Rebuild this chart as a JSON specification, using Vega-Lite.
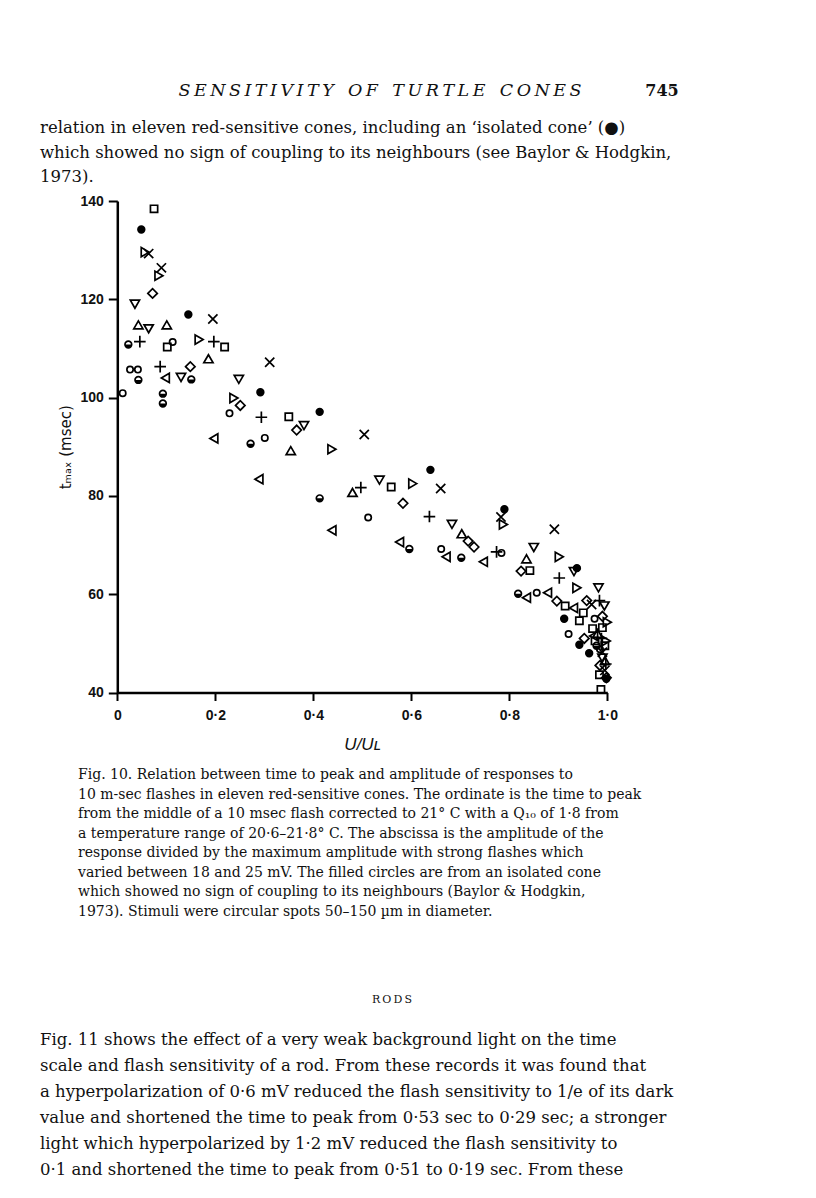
{
  "$schema": "https://vega.github.io/schema/vega-lite/v6.json",
  "width": 816,
  "height": 1198,
  "autosize": {"type": "none"},
  "padding": 0,
  "background": "white",
  "config": {"view": {"stroke": null}},
  "datasets": {
    "pts": [
      {"c":"iso","u":0.049,"v":134.2},{"c":"iso","u":0.145,"v":116.9},{"c":"iso","u":0.292,"v":101.1},{"c":"iso","u":0.413,"v":97.1},{"c":"iso","u":0.639,"v":85.3},{"c":"iso","u":0.790,"v":77.3},{"c":"iso","u":0.938,"v":65.3},{"c":"iso","u":0.912,"v":55.0},{"c":"iso","u":0.943,"v":49.7},{"c":"iso","u":0.963,"v":48.0},{"c":"iso","u":0.998,"v":42.8},
      {"c":"sq","u":0.075,"v":138.4},{"c":"sq","u":0.102,"v":110.3},{"c":"sq","u":0.219,"v":110.3},{"c":"sq","u":0.350,"v":96.1},{"c":"sq","u":0.559,"v":81.8},{"c":"sq","u":0.842,"v":64.8},{"c":"sq","u":0.914,"v":57.6},{"c":"sq","u":0.951,"v":56.2},{"c":"sq","u":0.943,"v":54.6},{"c":"sq","u":0.970,"v":53.0},{"c":"sq","u":0.990,"v":53.2},{"c":"sq","u":0.975,"v":50.5},{"c":"sq","u":0.995,"v":49.5},{"c":"sq","u":0.984,"v":43.6},{"c":"sq","u":0.987,"v":40.6},
      {"c":"x","u":0.064,"v":129.3},{"c":"x","u":0.090,"v":126.4},{"c":"x","u":0.195,"v":116.0},{"c":"x","u":0.311,"v":107.2},{"c":"x","u":0.504,"v":92.5},{"c":"x","u":0.660,"v":81.5},{"c":"x","u":0.783,"v":75.7},{"c":"x","u":0.892,"v":73.2},{"c":"x","u":0.968,"v":57.9},{"c":"x","u":0.990,"v":48.2},{"c":"x","u":0.995,"v":44.5},
      {"c":"td","u":0.036,"v":119.0},{"c":"td","u":0.064,"v":114.0},{"c":"td","u":0.130,"v":104.1},{"c":"td","u":0.248,"v":103.7},{"c":"td","u":0.381,"v":94.3},{"c":"td","u":0.535,"v":83.2},{"c":"td","u":0.683,"v":74.2},{"c":"td","u":0.850,"v":69.5},{"c":"td","u":0.932,"v":64.6},{"c":"td","u":0.982,"v":61.3},{"c":"td","u":0.994,"v":57.6},{"c":"td","u":0.990,"v":47.0},
      {"c":"tu","u":0.043,"v":114.8},{"c":"tu","u":0.101,"v":114.8},{"c":"tu","u":0.186,"v":107.9},{"c":"tu","u":0.354,"v":89.2},{"c":"tu","u":0.480,"v":80.7},{"c":"tu","u":0.703,"v":72.3},{"c":"tu","u":0.835,"v":67.2},{"c":"tu","u":0.980,"v":52.0},{"c":"tu","u":0.995,"v":46.5},
      {"c":"tr","u":0.057,"v":129.6},{"c":"tr","u":0.085,"v":124.8},{"c":"tr","u":0.167,"v":111.8},{"c":"tr","u":0.238,"v":99.9},{"c":"tr","u":0.438,"v":89.5},{"c":"tr","u":0.603,"v":82.5},{"c":"tr","u":0.788,"v":74.2},{"c":"tr","u":0.902,"v":67.6},{"c":"tr","u":0.938,"v":61.3},{"c":"tr","u":1.0,"v":54.3},{"c":"tr","u":0.998,"v":50.5},
      {"c":"tl","u":0.098,"v":104.0},{"c":"tl","u":0.197,"v":91.7},{"c":"tl","u":0.289,"v":83.4},{"c":"tl","u":0.438,"v":73.0},{"c":"tl","u":0.576,"v":70.6},{"c":"tl","u":0.671,"v":67.6},{"c":"tl","u":0.747,"v":66.6},{"c":"tl","u":0.835,"v":59.3},{"c":"tl","u":0.878,"v":60.3},{"c":"tl","u":0.931,"v":57.2},{"c":"tl","u":0.972,"v":51.5},
      {"c":"di","u":0.072,"v":121.2},{"c":"di","u":0.149,"v":106.3},{"c":"di","u":0.251,"v":98.4},{"c":"di","u":0.366,"v":93.4},{"c":"di","u":0.583,"v":78.5},{"c":"di","u":0.716,"v":70.8},{"c":"di","u":0.728,"v":69.6},{"c":"di","u":0.824,"v":64.7},{"c":"di","u":0.897,"v":58.6},{"c":"di","u":0.958,"v":58.7},{"c":"di","u":0.953,"v":51.0},{"c":"di","u":0.990,"v":55.5},{"c":"di","u":0.985,"v":45.5},{"c":"di","u":0.998,"v":43.0},
      {"c":"pl","u":0.046,"v":111.4},{"c":"pl","u":0.0875,"v":106.3},{"c":"pl","u":0.197,"v":111.4},{"c":"pl","u":0.294,"v":96.0},{"c":"pl","u":0.497,"v":81.7},{"c":"pl","u":0.637,"v":75.8},{"c":"pl","u":0.774,"v":68.6},{"c":"pl","u":0.902,"v":63.3},{"c":"pl","u":0.984,"v":58.7},{"c":"pl","u":0.988,"v":51.0},{"c":"pl","u":0.997,"v":45.8},
      {"c":"oc","u":0.011,"v":100.9},{"c":"oc","u":0.026,"v":105.7},{"c":"oc","u":0.042,"v":105.7},{"c":"oc","u":0.113,"v":111.3},{"c":"oc","u":0.229,"v":96.8},{"c":"oc","u":0.301,"v":91.8},{"c":"oc","u":0.512,"v":75.6},{"c":"oc","u":0.661,"v":69.2},{"c":"oc","u":0.784,"v":68.4},{"c":"oc","u":0.856,"v":60.3},{"c":"oc","u":0.921,"v":51.9},{"c":"oc","u":0.974,"v":55.0},{"c":"oc","u":0.985,"v":48.8},
      {"c":"dc","u":0.0225,"v":110.8},{"c":"dc","u":0.043,"v":103.6},{"c":"dc","u":0.093,"v":100.8},{"c":"dc","u":0.093,"v":98.8},{"c":"dc","u":0.151,"v":103.7},{"c":"dc","u":0.272,"v":90.6},{"c":"dc","u":0.413,"v":79.5},{"c":"dc","u":0.596,"v":69.2},{"c":"dc","u":0.702,"v":67.4},{"c":"dc","u":0.818,"v":60.1},{"c":"dc","u":0.978,"v":49.5}
    ],
    "head": [{"t":"S\u2009E\u2009N\u2009S\u2009I\u2009T\u2009I\u2009V\u2009I\u2009T\u2009Y\u2002 O\u2009F\u2002 T\u2009U\u2009R\u2009T\u2009L\u2009E\u2002 C\u2009O\u2009N\u2009E\u2009S"}],
    "page": [{"t":"745"}],
    "intro": [
      {"i":0,"t":"relation in eleven red-sensitive cones, including an \u2018isolated cone\u2019 (\u25cf)"},
      {"i":1,"t":"which showed no sign of coupling to its neighbours (see Baylor & Hodgkin,"},
      {"i":2,"t":"1973)."}
    ],
    "cap": [
      {"i":0,"t":"Fig. 10. Relation between time to peak and amplitude of responses to"},
      {"i":1,"t":"10 m-sec flashes in eleven red-sensitive cones. The ordinate is the time to peak"},
      {"i":2,"t":"from the middle of a 10 msec flash corrected to 21\u00b0 C with a Q\u2081\u2080 of 1\u00b78 from"},
      {"i":3,"t":"a temperature range of 20\u00b76\u201321\u00b78\u00b0 C. The abscissa is the amplitude of the"},
      {"i":4,"t":"response divided by the maximum amplitude with strong flashes which"},
      {"i":5,"t":"varied between 18 and 25 mV. The filled circles are from an isolated cone"},
      {"i":6,"t":"which showed no sign of coupling to its neighbours (Baylor & Hodgkin,"},
      {"i":7,"t":"1973). Stimuli were circular spots 50\u2013150 \u00b5m in diameter."}
    ],
    "rods": [{"t":"R\u2009O\u2009D\u2009S"}],
    "body": [
      {"i":0,"t":"\u2003Fig. 11 shows the effect of a very weak background light on the time"},
      {"i":1,"t":"scale and flash sensitivity of a rod. From these records it was found that"},
      {"i":2,"t":"a hyperpolarization of 0\u00b76 mV reduced the flash sensitivity to 1/e of its dark"},
      {"i":3,"t":"value and shortened the time to peak from 0\u00b753 sec to 0\u00b729 sec; a stronger"},
      {"i":4,"t":"light which hyperpolarized by 1\u00b72 mV reduced the flash sensitivity to"},
      {"i":5,"t":"0\u00b71 and shortened the time to peak from 0\u00b751 to 0\u00b719 sec. From these"}
    ]
  },
  "resolve": {"scale": {"x": "independent", "y": "independent"}, "axis": {"x": "independent", "y": "independent"}},
  "layer": [
    {
      "data": {"name": "pts"},
      "mark": {"type": "point", "filled": false, "stroke": "black", "strokeWidth": 1.7, "opacity": 1},
      "encoding": {
        "x": {"field": "u", "type": "quantitative",
          "scale": {"domain": [0, 1], "range": [117.3, 607.3], "nice": false, "zero": false},
          "axis": {"orient": "bottom", "offset": -505.5, "values": [0, 0.2, 0.4, 0.6, 0.8, 1], "grid": false,
            "domainColor": "black", "domainWidth": 2.5, "tickColor": "black", "tickWidth": 2, "tickSize": 8,
            "labelFont": "Liberation Sans", "labelFontWeight": "bold", "labelFontSize": 14, "labelColor": "#111",
            "labelPadding": 8, "labelFlush": false, "labelOverlap": false,
            "labelExpr": "datum.value === 0 ? '0' : replace(format(datum.value, '.1f'), '.', '\u00b7')",
            "title": "U/U\u029f", "titleFont": "Liberation Sans", "titleFontStyle": "italic", "titleFontWeight": "normal",
            "titleFontSize": 17, "titleColor": "#111", "titlePadding": 14}},
        "y": {"field": "v", "type": "quantitative",
          "scale": {"domain": [40, 140], "range": [692.5, 201], "nice": false, "zero": false},
          "axis": {"orient": "left", "offset": -117.3, "values": [40, 60, 80, 100, 120, 140], "grid": false,
            "domainColor": "black", "domainWidth": 2.5, "tickColor": "black", "tickWidth": 2, "tickSize": 9,
            "labelFont": "Liberation Sans", "labelFontWeight": "bold", "labelFontSize": 14, "labelColor": "#111",
            "labelPadding": 5, "labelFlush": false, "labelOverlap": false,
            "title": "t\u2098\u2090\u2093 (msec)", "titleFont": "DejaVu Sans", "titleFontWeight": "normal",
            "titleFontSize": 15, "titleColor": "#111", "titlePadding": 6}},
        "shape": {"field": "c", "type": "nominal", "legend": null,
          "scale": {"domain": ["iso","sq","x","td","tu","tr","tl","di","pl","oc","dc"],
            "range": ["circle","square","M-1,-1L1,1M-1,1L1,-1","triangle-down","triangle-up","triangle-right","triangle-left","diamond","M-1,0L1,0M0,-1L0,1","circle","circle"]}},
        "fill": {"condition": {"test": "datum.c === 'iso'", "value": "black"}, "value": "transparent"},
        "size": {"condition": [
          {"test": "datum.c === 'pl'", "value": 135},
          {"test": "datum.c === 'x'", "value": 85},
          {"test": "datum.c === 'sq'", "value": 52},
          {"test": "datum.c === 'iso' || datum.c === 'dc'", "value": 45},
          {"test": "datum.c === 'oc'", "value": 40},
          {"test": "datum.c === 'di'", "value": 90}
        ], "value": 85}
      }
    },
    {
      "data": {"name": "pts"},
      "transform": [{"filter": "datum.c === 'dc'"}],
      "mark": {"type": "point", "filled": true, "shape": "M-1,0A1,1,0,0,0,1,0Z", "size": 45, "color": "black", "opacity": 1, "strokeWidth": 0},
      "encoding": {
        "x": {"field": "u", "type": "quantitative", "scale": {"domain": [0, 1], "range": [117.3, 607.3], "nice": false, "zero": false}, "axis": null},
        "y": {"field": "v", "type": "quantitative", "scale": {"domain": [40, 140], "range": [692.5, 201], "nice": false, "zero": false}, "axis": null}
      }
    },
    {
      "data": {"name": "head"},
      "mark": {"type": "text", "align": "center", "baseline": "middle", "font": "DejaVu Serif", "fontStyle": "italic", "fontSize": 17.5, "color": "#111"},
      "encoding": {
        "text": {"field": "t"},
        "x": {"datum": 0, "type": "quantitative", "scale": {"domain": [0, 1], "range": [380, 816], "nice": false, "zero": false}, "axis": null},
        "y": {"datum": 0, "type": "quantitative", "scale": {"domain": [0, 1], "range": [91, 1198], "nice": false, "zero": false}, "axis": null}
      }
    },
    {
      "data": {"name": "page"},
      "mark": {"type": "text", "align": "center", "baseline": "middle", "font": "DejaVu Serif", "fontWeight": "bold", "fontSize": 16, "color": "#111"},
      "encoding": {
        "text": {"field": "t"},
        "x": {"datum": 0, "type": "quantitative", "scale": {"domain": [0, 1], "range": [662, 816], "nice": false, "zero": false}, "axis": null},
        "y": {"datum": 0, "type": "quantitative", "scale": {"domain": [0, 1], "range": [91, 1198], "nice": false, "zero": false}, "axis": null}
      }
    },
    {
      "data": {"name": "intro"},
      "mark": {"type": "text", "align": "left", "baseline": "middle", "font": "DejaVu Serif", "fontSize": 16.5, "color": "#111"},
      "encoding": {
        "text": {"field": "t"},
        "x": {"datum": 0, "type": "quantitative", "scale": {"domain": [0, 1], "range": [40, 676], "nice": false, "zero": false}, "axis": null},
        "y": {"field": "i", "type": "quantitative", "scale": {"domain": [0, 2], "range": [128, 177], "nice": false, "zero": false}, "axis": null}
      }
    },
    {
      "data": {"name": "cap"},
      "mark": {"type": "text", "align": "left", "baseline": "middle", "font": "DejaVu Serif", "fontSize": 14, "color": "#111"},
      "encoding": {
        "text": {"field": "t"},
        "x": {"datum": 0, "type": "quantitative", "scale": {"domain": [0, 1], "range": [78, 641], "nice": false, "zero": false}, "axis": null},
        "y": {"field": "i", "type": "quantitative", "scale": {"domain": [0, 7], "range": [775, 912], "nice": false, "zero": false}, "axis": null}
      }
    },
    {
      "data": {"name": "rods"},
      "mark": {"type": "text", "align": "center", "baseline": "middle", "font": "DejaVu Serif", "fontSize": 11, "color": "#111"},
      "encoding": {
        "text": {"field": "t"},
        "x": {"datum": 0, "type": "quantitative", "scale": {"domain": [0, 1], "range": [392, 816], "nice": false, "zero": false}, "axis": null},
        "y": {"datum": 0, "type": "quantitative", "scale": {"domain": [0, 1], "range": [1000, 1198], "nice": false, "zero": false}, "axis": null}
      }
    },
    {
      "data": {"name": "body"},
      "mark": {"type": "text", "align": "left", "baseline": "middle", "font": "DejaVu Serif", "fontSize": 16.5, "color": "#111"},
      "encoding": {
        "text": {"field": "t"},
        "x": {"datum": 0, "type": "quantitative", "scale": {"domain": [0, 1], "range": [40, 676], "nice": false, "zero": false}, "axis": null},
        "y": {"field": "i", "type": "quantitative", "scale": {"domain": [0, 5], "range": [1040, 1170], "nice": false, "zero": false}, "axis": null}
      }
    }
  ]
}
